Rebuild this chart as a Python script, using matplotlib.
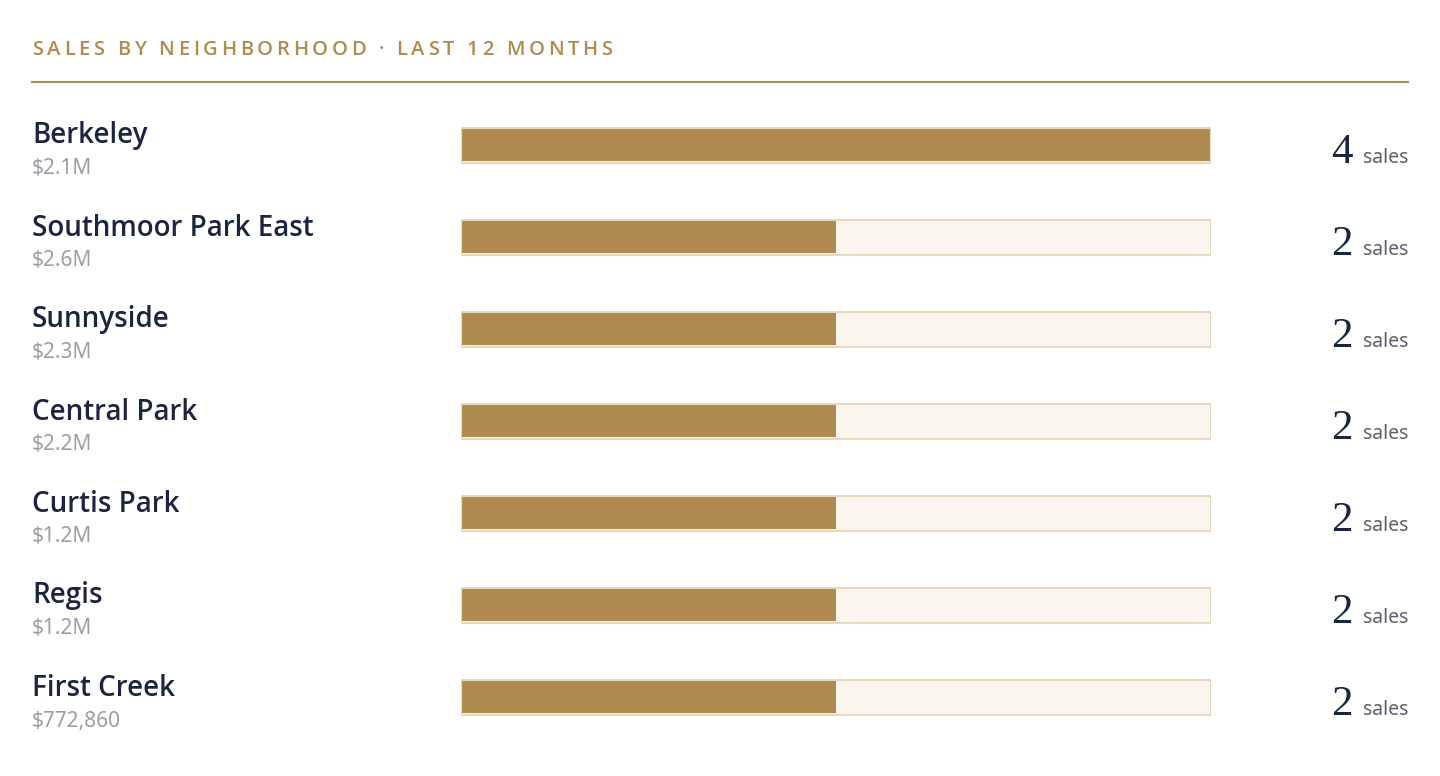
import matplotlib
matplotlib.use('Agg')
import matplotlib.pyplot as plt
from matplotlib.font_manager import FontProperties
from matplotlib.textpath import TextToPath
from matplotlib.lines import Line2D
from matplotlib.transforms import blended_transform_factory, ScaledTranslation

# data
neighborhoods = ['Berkeley', 'Southmoor Park East', 'Sunnyside', 'Central Park',
                 'Curtis Park', 'Regis', 'First Creek']
volumes = ['$2.1M', '$2.6M', '$2.3M', '$2.2M', '$1.2M', '$1.2M', '$772,860']
sales = [4, 2, 2, 2, 2, 2, 2]
title = 'SALES BY NEIGHBORHOOD \u00b7 LAST 12 MONTHS'

GOLD = '#B08B4F'
TRACK = '#FAF6EF'
BORDER = '#E8D9BC'
NAVY = '#1B2540'
GREY = '#9A9EA5'
DARKGREY = '#5A5F68'

W, H = 1440, 776
fig = plt.figure(figsize=(W / 100, H / 100), dpi=100)
fig.patch.set_facecolor('white')

# bars axes
top, row_h = 99, 92
n = len(neighborhoods)
ax = fig.add_axes([461 / W, 1 - (top + row_h * n) / H, 750 / W, row_h * n / H])
ypos = list(range(n))
bh = 35 / row_h
vmax = max(sales)
ax.barh(ypos, [vmax] * n, height=bh, color=TRACK, linewidth=0)
ax.barh(ypos, sales, height=bh * 32 / 35, color=GOLD, linewidth=0)
ax.barh(ypos, [vmax] * n, height=bh, fill=False, edgecolor=BORDER, linewidth=1.5)
ax.set_xlim(0, vmax)
ax.set_ylim(n - 0.5, -0.5)
ax.axis('off')


def row_tr(dy):
    return (blended_transform_factory(fig.transFigure, ax.transData)
            + ScaledTranslation(0, -dy / 100, fig.dpi_scale_trans))


name_font = FontProperties(family='Open Sans', weight=600, size=20)
val_font = FontProperties(family='Noto Sans', size=15)
num_font = FontProperties(family='Liberation Serif', size=31)
unit_font = FontProperties(family='Noto Sans', size=14)

unit_texts = []
for i, (nm, vol) in enumerate(zip(neighborhoods, volumes)):
    fig.text(32 / W, i, nm, transform=row_tr(-1.5), fontproperties=name_font,
             color=NAVY, va='baseline', ha='left')
    fig.text(32 / W, i, vol, transform=row_tr(29.5), fontproperties=val_font,
             color=GREY, va='baseline', ha='left')
    t = fig.text(1408 / W, i, 'sales', transform=row_tr(18), fontproperties=unit_font,
                 color=DARKGREY, va='baseline', ha='right')
    unit_texts.append(t)

fig.canvas.draw()
r = fig.canvas.get_renderer()
for i, t in enumerate(unit_texts):
    x0 = t.get_window_extent(r).x0
    fig.text((x0 - 10) / W, i, str(sales[i]), transform=row_tr(18),
             fontproperties=num_font, color=NAVY, va='baseline', ha='right')

# title with letter spacing
title_font = FontProperties(family='Open Sans', weight=600, size=14.5)
ttp = TextToPath()
spacing = 3.7  # px
bar_w = ttp.get_text_width_height_descent('|', title_font, ismath=False)[0]
for k, ch in enumerate(title):
    pre = title[:k]
    w = 0 if not pre else ttp.get_text_width_height_descent(pre + '|', title_font, ismath=False)[0] - bar_w
    x = 32 + w * 100 / 72 + k * spacing
    fig.text(x / W, 1 - 55 / H, ch, fontproperties=title_font, color=GOLD,
             va='baseline', ha='left')

fig.add_artist(Line2D([32 / W, 1408 / W], [1 - 82 / H, 1 - 82 / H],
                      transform=fig.transFigure, color=GOLD, linewidth=1.5))

fig.savefig('out.png', dpi=100, facecolor='white')
